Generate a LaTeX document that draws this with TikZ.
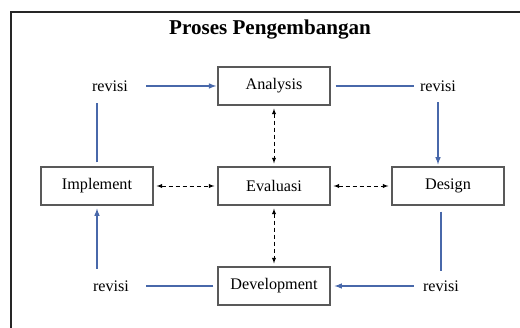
\documentclass[tikz,border=0pt]{standalone}
\usepackage{fontspec}
\setmainfont{Liberation Serif}
\definecolor{revBlue}{RGB}{72,104,170}
\definecolor{tipBlue}{RGB}{31,56,110}

\tikzstyle{stepNode} = [rectangle, minimum width=2.8cm, minimum height=0.95cm, text centered, draw=black!65, line width=0.8pt, font=\fontsize{11.5}{14}\selectfont]
\tikzstyle{revNode} = [inner sep=0pt, font=\fontsize{11.5}{14}\selectfont]
\tikzstyle{revArrow} = [revBlue, line width=0.8pt, ->, >=latex]
\tikzstyle{revLine} = [revBlue, line width=0.8pt]
\tikzstyle{evalArrow} = [black, densely dashed, <->, >=latex, shorten >=0.075cm, shorten <=0.075cm]

\begin{document}
\begin{tikzpicture}[node distance=2.5cm]
  \useasboundingbox (-6.85,-3.525) rectangle (6.15,4.65);
  % frame
  \draw [line width=1.4pt, black!85] (-6.575,-3.6) -- (-6.575,4.35) -- (6.2,4.35);

  \node (evaluasi)[stepNode] {Evaluasi};
  \node (analysis)[stepNode, above of=evaluasi] {Analysis};
  \node (development)[stepNode, below of=evaluasi] {Development};
  \node (implement)[stepNode, left of=evaluasi, xshift=-1.925cm] {Implement};
  \node (design)[stepNode, right of=evaluasi, xshift=1.85cm] {Design};
  \node (title)[above of=analysis, xshift=-0.1cm, yshift=-1.1cm, font=\fontsize{15}{18}\selectfont\bfseries] {Proses Pengembangan};

  \node (revTL)[revNode, left of=analysis, xshift=-1.6cm] {revisi};
  \node (revTR)[revNode, right of=analysis, xshift=1.6cm] {revisi};
  \node (revBL)[revNode, left of=development, xshift=-1.575cm] {revisi};
  \node (revBR)[revNode, right of=development, xshift=1.675cm] {revisi};

  % revision cycle
  \draw [revArrow, shorten <=0.45cm, shorten >=0.03cm] (revTL) -- (analysis);
  \draw [revLine, shorten <=0.125cm, shorten >=0.15cm] (analysis) -- (revTR);
  \draw [revArrow, shorten <=0.26cm, shorten >=0.05cm] (revTR) -- (revTR |- design.north);
  \draw [revLine, shorten <=0.15cm, shorten >=0.24cm] (revBR |- design.south) -- (revBR);
  \draw [revArrow, shorten <=0.225cm, shorten >=0.1cm] (revBR) -- (development);
  \draw [revLine, shorten <=0.1cm, shorten >=0.425cm] (development) -- (revBL);
  \draw [revArrow, shorten <=0.29cm, shorten >=0.075cm] (implement.south |- revBL.north) -- (implement.south);
  \draw [revLine, shorten <=0.1cm, shorten >=0.29cm] (implement.north) -- (implement.north |- revTL.south);

  % evaluation links
  \draw [evalArrow] (analysis) -- (evaluasi);
  \draw [evalArrow] (evaluasi) -- (development);
  \draw [evalArrow] (implement) -- (evaluasi);
  \draw [evalArrow] (evaluasi) -- (design);
\end{tikzpicture}
\end{document}
